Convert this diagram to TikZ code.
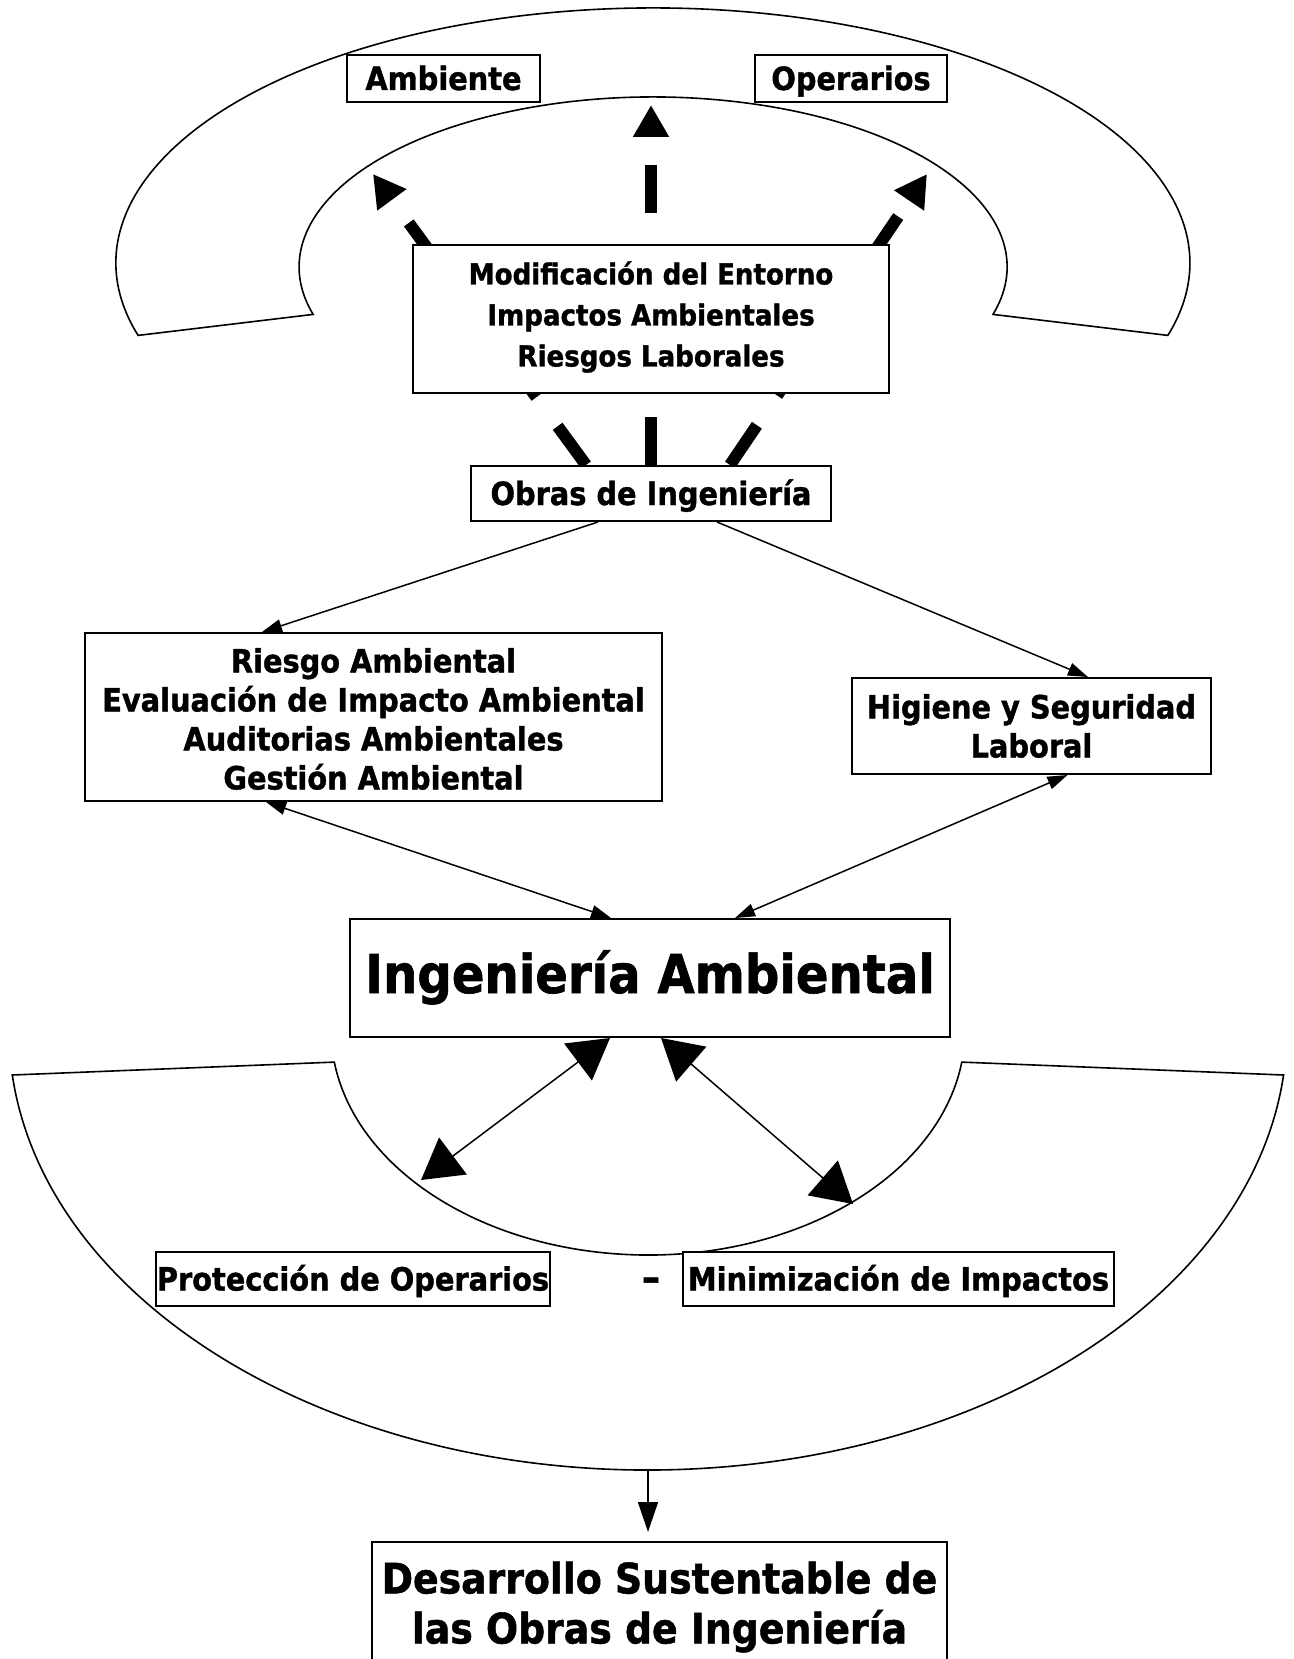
\documentclass[tikz,border=0pt]{standalone}
\usepackage{fontspec}
\usetikzlibrary{arrows.meta}
\newfontfamily\tah[FakeStretch=0.9,FakeBold=1.2]{DejaVu Sans Bold}
\newcommand\fsA{\tah\fontsize{32}{39}\selectfont}
\newcommand\fsM{\tah\fontsize{29}{41}\selectfont}
\newcommand\fsB{\tah\fontsize{53.5}{64}\selectfont}
\newcommand\fsD{\tah\fontsize{42}{50}\selectfont}
\newcommand\fsG{\tah\fontsize{40}{40}\selectfont}
\pgfdeclarelayer{bg}
\pgfsetlayers{bg,main}
\tikzset{
  box/.style={draw, line width=2pt, fill=white, inner sep=0pt, align=center},
  one/.style={font=\fsA, text height=27pt, text depth=4pt},
  thinarr/.style={line width=1.5pt, -{Triangle[length=20pt,width=13pt]}},
  thindbl/.style={line width=1.5pt, {Triangle[length=20pt,width=13pt]}-{Triangle[length=20pt,width=13pt]}},
  bigdbl/.style={line width=1.5pt, {Triangle[length=40pt,width=46pt]}-{Triangle[length=40pt,width=46pt]}},
  dasharr/.style={line width=12pt, dash pattern=on 48pt off 36pt, -{Triangle[length=32pt,width=34pt]}},
  band/.style={draw, line width=1.6pt, line join=miter},
}
\begin{document}
\begin{tikzpicture}[x=1pt,y=-1pt]
\useasboundingbox (0,0) rectangle (1293,1659);
% nodes
\node[box, one, minimum width=193pt, minimum height=47pt] (amb) at (443.5,78.5) {Ambiente};
\node[box, one, minimum width=192pt, minimum height=47pt] (ope) at (851,78.5) {Operarios};
\node[box, minimum width=476pt, minimum height=148pt] (mod) at (651,319) {};
\node[align=center, font=\fsM, inner sep=0pt] (modt) at (651,317)
  {Modificación del Entorno\\ Impactos Ambientales\\ Riesgos Laborales};
\node[box, one, minimum width=360pt, minimum height=55pt] (obras) at (651,493.5) {Obras de Ingeniería};
\node[box, minimum width=577pt, minimum height=168pt] (riesgo) at (373.5,717) {};
\node[align=center, font=\fsA, inner sep=0pt] (riesgot) at (373.5,719)
  {Riesgo Ambiental\\ Evaluación de Impacto Ambiental\\ Auditorias Ambientales\\ Gestión Ambiental};
\node[box, font=\fsA, minimum width=359pt, minimum height=96pt] (hig) at (1031.5,726)
  {Higiene y Seguridad\\ Laboral};
\node[box, font=\fsB, text height=40pt, text depth=10pt, minimum width=600pt, minimum height=118pt] (ia) at (650,978) {Ingeniería Ambiental};
\node[box, one, minimum width=394pt, minimum height=54pt] (prot) at (353,1279) {Protección de Operarios};
\node[box, one, minimum width=431pt, minimum height=54pt] (mini) at (898.5,1279) {Minimización de Impactos};
\node[inner sep=0pt, anchor=base, font=\fsG] (guion) at (651,1291) {–};
\node[box, minimum width=575pt, minimum height=124pt] (des) at (659.5,1604) {};
\node[align=center, font=\fsD, inner sep=0pt] (dest) at (659.5,1607)
  {Desarrollo Sustentable de\\ las Obras de Ingeniería};
% coordinates
\coordinate (tl) at (373,174);
\coordinate (tc) at (651,105);
\coordinate (tr) at (927,174);
\coordinate (p1) at (421,1180);
\coordinate (p2) at (853,1204);
\coordinate (abot) at (648,1470);
\begin{pgfonlayer}{bg}
  \fill[white] (0,0) rectangle (1293,1659);
  % top band
  \draw[band] (138.1,335.4) arc[start angle=196.5, end angle=-16.5, x radius=537pt, y radius=255pt]
     -- (993,314.4) arc[start angle=-16.2, end angle=196.2, x radius=354pt, y radius=170pt] -- cycle;
  % bottom band
  \draw[band] (12.3,1075) arc[start angle=185.87, end angle=354.13, x radius=639pt, y radius=440pt]
     -- (961.8,1062.1) arc[start angle=-8.2, end angle=-171.8, x radius=317pt, y radius=225pt] -- cycle;
  % thick dashed arrows
  \draw[dasharr] ([xshift=-65pt]obras.north) -- (tl);
  \draw[dasharr] (obras.north) -- (tc);
  \draw[dasharr] ([xshift=79pt]obras.north) -- (tr);
\end{pgfonlayer}
% thin arrows
\draw[thinarr] ([xshift=-53pt]obras.south) -- ([xshift=-111.5pt]riesgo.north);
\draw[thinarr] ([xshift=66pt]obras.south) -- ([xshift=56.5pt]hig.north);
\draw[thindbl] ([xshift=-107.5pt]riesgo.south) -- ([xshift=-39pt]ia.north);
\draw[thindbl] ([xshift=36pt]hig.south) -- ([xshift=85pt]ia.north);
% big double arrows
\draw[bigdbl] ([xshift=-40pt]ia.south) -- (p1);
\draw[bigdbl] ([xshift=11pt]ia.south) -- (p2);
% down arrow
\draw[line width=1.5pt, -{Triangle[length=30pt,width=20pt]}, shorten >=9pt] (abot) -- (abot |- des.north);
\end{tikzpicture}
\end{document}
